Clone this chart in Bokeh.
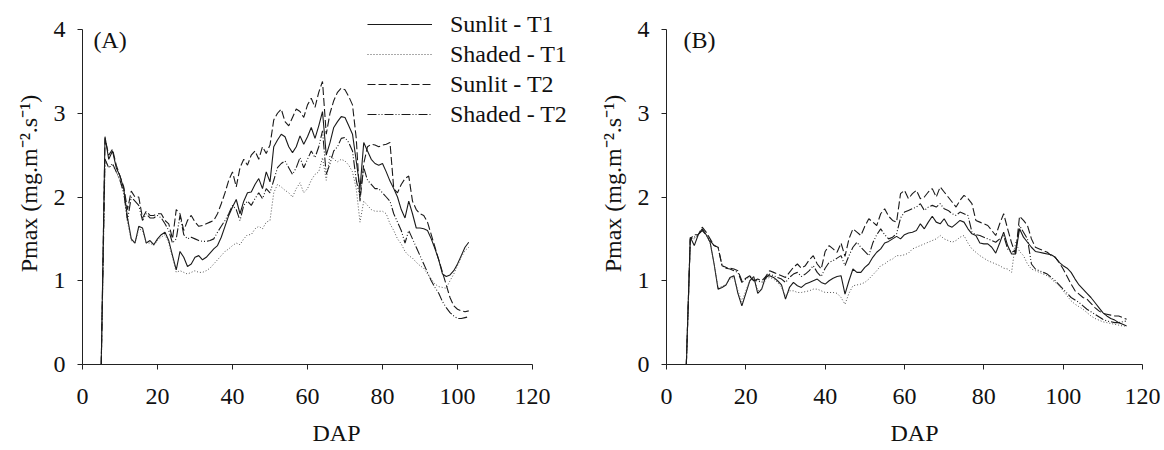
from bokeh.plotting import figure
from bokeh.layouts import row
from bokeh.models import Label, Legend, LegendItem, FixedTicker, Range1d
from bokeh.embed import file_html
from bokeh.resources import INLINE

# ---------------- data ----------------
x_ticks = [0, 20, 40, 60, 80, 100, 120]
y_ticks = [0, 1, 2, 3, 4]
series_names = ["Sunlit - T1", "Shaded - T1", "Sunlit - T2", "Shaded - T2"]

dap_a = list(range(5, 104))
sunlit_t1_a = [0, 2.72, 2.45, 2.55, 2.35, 2.25, 2.1, 1.75, 1.5, 1.45,
               1.65, 1.63, 1.45, 1.48, 1.43, 1.5, 1.55, 1.58, 1.48, 1.3,
               1.13, 1.35, 1.28, 1.17, 1.2, 1.28, 1.3, 1.25, 1.28, 1.33,
               1.38, 1.42, 1.52, 1.65, 1.78, 1.88, 1.97, 1.8, 1.95, 2.05,
               2.06, 2.15, 2.22, 2.1, 2.3, 2.18, 2.6, 2.68, 2.75, 2.72,
               2.6, 2.53, 2.6, 2.73, 2.63, 2.72, 2.83, 2.7, 2.85, 3.02,
               2.5, 2.65, 2.83, 2.9, 2.96, 2.95, 2.85, 2.75, 2.43, 2.1,
               2.65, 2.55, 2.45, 2.4, 2.38, 2.4, 2.3, 2.19, 2.1, 2.0,
               1.85, 1.75, 1.95, 1.8, 1.63, 1.63, 1.62, 1.6, 1.5, 1.38,
               1.25, 1.08, 1.05, 1.07, 1.12, 1.2, 1.3, 1.4, 1.46]
shaded_t1_a = [0, 2.45, 2.35, 2.38, 2.3, 2.2, 2.05, 1.7, 1.48, 1.45,
               1.62, 1.6, 1.45, 1.45, 1.42, 1.48, 1.52, 1.55, 1.45, 1.28,
               1.1, 1.12, 1.1, 1.08, 1.1, 1.12, 1.1, 1.1, 1.12, 1.15,
               1.2, 1.25, 1.3, 1.35, 1.38, 1.42, 1.45, 1.43, 1.5, 1.55,
               1.55, 1.62, 1.65, 1.62, 1.7, 1.72, 2.05, 2.15, 2.12, 2.08,
               2.05, 2.0, 2.1, 2.17, 2.05, 2.1, 2.2, 2.27, 2.3, 2.47,
               2.2, 2.5, 2.45, 2.42, 2.45, 2.43, 2.38, 2.3, 2.1, 1.7,
               1.95, 1.9, 1.85, 1.83, 1.83, 1.83, 1.8, 1.68, 1.6, 1.5,
               1.44, 1.35, 1.3, 1.27, 1.22, 1.18, 1.15, 1.08, 1.02, 0.96,
               0.93, 0.92, 0.91, 1.0, 1.08, 1.18, 1.28, 1.36, 1.4]
sunlit_t2_a = [0, 2.7, 2.5, 2.57, 2.38, 2.25, 2.12, 1.85, 2.07, 2.0,
               2.0, 1.75, 1.83, 1.78, 1.78, 1.8, 1.8, 1.72, 1.68, 1.5,
               1.85, 1.8, 1.6, 1.72, 1.78, 1.7, 1.65, 1.66, 1.68, 1.7,
               1.72, 1.8, 1.92, 2.05, 2.2, 2.3, 2.12, 2.35, 2.45, 2.38,
               2.5, 2.55, 2.45, 2.6, 2.52, 2.62, 2.92, 3.0, 3.05, 2.9,
               2.85, 2.95, 3.05, 3.02, 2.95, 3.1, 3.18, 3.07, 3.25, 3.38,
               2.75, 3.0, 3.15, 3.25, 3.3, 3.28, 3.2, 3.1, 2.7, 1.95,
               2.4, 2.6, 2.63, 2.62, 2.6, 2.62, 2.63, 2.65, 2.1, 2.05,
               2.15, 2.22, 2.25, 1.95, 1.85, 1.8, 1.78, 1.7, 1.55, 1.4,
               1.25, 1.1, 0.95, 0.8, 0.7, 0.66, 0.64, 0.63, 0.64]
shaded_t2_a = [0, 2.45, 2.35, 2.4, 2.3, 2.2, 2.05, 1.72, 2.0, 1.95,
               1.9, 1.72, 1.8, 1.75, 1.75, 1.78, 1.75, 1.68, 1.6, 1.45,
               1.5, 1.78, 1.55, 1.5, 1.52, 1.5, 1.48, 1.47, 1.47, 1.48,
               1.5, 1.58, 1.65, 1.72, 1.8, 1.9, 1.85, 1.72, 1.9, 1.95,
               1.9, 1.98, 2.05, 1.98, 2.1, 2.05, 2.2, 2.35, 2.4, 2.43,
               2.35, 2.27, 2.35, 2.47, 2.35, 2.45, 2.55, 2.47, 2.6, 2.79,
               2.27, 2.4, 2.55, 2.6, 2.7, 2.71, 2.65, 2.55, 2.2, 2.0,
               2.35, 2.2, 2.15, 2.1, 2.1, 2.05, 2.0, 1.95, 1.8, 1.7,
               1.6, 1.45, 1.6, 1.5, 1.4, 1.3, 1.2, 1.1, 1.0, 0.92,
               0.85, 0.75, 0.68, 0.62, 0.58, 0.55, 0.55, 0.56, 0.57]

dap_b = list(range(5, 117))
sunlit_t1_b = [0, 1.52, 1.42, 1.55, 1.62, 1.55, 1.46, 1.2, 0.9, 0.92,
               0.95, 1.04, 1.06, 0.85, 0.7, 0.85, 1.0, 1.05, 0.85, 0.9,
               1.05, 1.06, 1.04, 1.0, 0.95, 0.78, 0.92, 0.98, 0.94, 0.92,
               0.96, 0.98, 1.0, 1.02, 0.98, 0.96, 1.0, 1.03, 1.05, 1.06,
               0.84, 1.0, 1.14, 1.1, 1.1, 1.16, 1.2, 1.28, 1.34, 1.38,
               1.45, 1.47, 1.5, 1.53, 1.5, 1.55, 1.57, 1.58, 1.6, 1.68,
               1.62, 1.7, 1.77, 1.7, 1.68, 1.74, 1.66, 1.64, 1.68, 1.72,
               1.7, 1.62, 1.56, 1.54, 1.45, 1.44, 1.44, 1.4, 1.33, 1.45,
               1.58, 1.42, 1.32, 1.32, 1.62, 1.52, 1.46, 1.4, 1.35, 1.34,
               1.33, 1.32, 1.31, 1.28, 1.22, 1.18, 1.15, 1.1, 1.02, 0.95,
               0.9, 0.85, 0.8, 0.74, 0.68, 0.62, 0.58, 0.55, 0.53, 0.5,
               0.48, 0.46]
shaded_t1_b = [0, 1.5, 1.5, 1.55, 1.6, 1.55, 1.45, 1.2, 0.92, 0.93,
               0.96, 1.02, 1.04, 0.88, 0.75, 0.88, 1.0, 1.04, 0.88, 0.9,
               1.02, 1.04, 1.02, 0.98, 0.92, 0.82, 0.88, 0.88, 0.86, 0.86,
               0.87, 0.88, 0.9, 0.9, 0.88, 0.86, 0.86, 0.86, 0.85, 0.8,
               0.72, 0.85, 0.94, 0.95, 0.96, 0.98, 1.02, 1.07, 1.12, 1.18,
               1.2, 1.24, 1.26, 1.3, 1.3, 1.31, 1.33, 1.38, 1.4, 1.42,
               1.44, 1.46, 1.48, 1.5, 1.54, 1.5, 1.48, 1.46, 1.48, 1.52,
               1.54, 1.45, 1.38, 1.34, 1.3, 1.27, 1.24, 1.22, 1.2, 1.18,
               1.15, 1.14, 1.1, 1.46, 1.35, 1.3, 1.2, 1.14, 1.12, 1.1,
               1.08, 1.06, 1.02, 0.98, 0.94, 0.88, 0.82, 0.76, 0.72, 0.69,
               0.66, 0.62, 0.58, 0.55, 0.53, 0.51, 0.5, 0.49, 0.48, 0.47,
               0.46, 0.46]
sunlit_t2_b = [0, 1.5, 1.55, 1.55, 1.64, 1.58, 1.5, 1.42, 1.4, 1.18,
               1.16, 1.15, 1.14, 1.12, 1.0, 1.03, 1.06, 1.0, 1.02, 1.0,
               1.05, 1.12, 1.1, 1.08, 1.06, 1.04, 1.1, 1.16, 1.2, 1.15,
               1.18, 1.25, 1.3, 1.2, 1.14, 1.35, 1.42, 1.38, 1.34, 1.45,
               1.29, 1.5, 1.62, 1.58, 1.54, 1.65, 1.74, 1.7, 1.66, 1.8,
               1.86, 1.77, 1.72, 1.7, 2.04, 2.08, 1.98, 2.04, 2.08, 1.98,
               2.0, 2.06, 2.1, 2.0, 2.12, 2.06, 2.0, 1.94, 1.88, 1.96,
               2.02, 1.98, 1.92, 1.72, 1.7, 1.68, 1.66, 1.6, 1.54, 1.68,
               1.8, 1.62, 1.45, 1.32, 1.77, 1.72, 1.66, 1.5, 1.4, 1.38,
               1.36, 1.34, 1.3, 1.28, 1.22, 1.14, 1.05, 0.96, 0.88, 0.84,
               0.8, 0.78, 0.73, 0.68, 0.64, 0.61, 0.6, 0.59, 0.58, 0.58,
               0.56, 0.54]
shaded_t2_b = [0, 1.5, 1.52, 1.55, 1.6, 1.55, 1.48, 1.42, 1.4, 1.18,
               1.15, 1.14, 1.12, 1.1, 0.98, 1.02, 1.05, 1.0, 1.0, 0.98,
               1.03, 1.08, 1.06, 1.04, 1.02, 0.98, 1.04, 1.08, 1.1, 1.05,
               1.08, 1.12, 1.18, 1.1, 1.05, 1.15, 1.22, 1.24, 1.27, 1.3,
               1.18, 1.3, 1.4, 1.46, 1.4, 1.35, 1.3, 1.45, 1.55, 1.62,
               1.55, 1.5, 1.52, 1.56, 1.75, 1.82, 1.84, 1.86, 1.88, 1.92,
               1.84, 1.88, 1.9, 1.88, 1.92, 1.86, 1.84, 1.8, 1.78, 1.82,
               1.8, 1.78, 1.58, 1.55, 1.54, 1.52, 1.5, 1.48, 1.46, 1.5,
               1.54, 1.38, 1.34, 1.36, 1.66, 1.58, 1.5, 1.2, 1.14, 1.12,
               1.1, 1.08, 1.04, 1.0, 0.95, 0.9, 0.85, 0.8, 0.77, 0.74,
               0.7, 0.66, 0.63, 0.6, 0.57, 0.54, 0.52, 0.51, 0.5, 0.5,
               0.51, 0.52]

# ---------------- styling ----------------
FONT = "Liberation Serif"
STYLES = [
    dict(line_color="#1a1a1a", line_width=1.1, line_dash="solid"),
    dict(line_color="#555555", line_width=1.0, line_dash="1 2"),
    dict(line_color="#1a1a1a", line_width=1.1, line_dash="8 3"),
    dict(line_color="#1a1a1a", line_width=1.1, line_dash="9 2 1 2 1 2"),
]

HEIGHT = 450
TOP = 2          # frame extends above y=4 so the legend is not clipped
BOTTOM = 86
AXIS_PX = 335    # pixels from y=0 to y=4


def make_panel(width, border_left, border_right, axis_w_px, dap, series, tag, tag_x, tag_y):
    frame_w = width - border_left - border_right
    x_end = 120.0 * frame_w / axis_w_px
    frame_h = HEIGHT - TOP - BOTTOM
    y_end = 4.0 * frame_h / AXIS_PX
    p = figure(width=width, height=HEIGHT, x_range=Range1d(0, x_end), y_range=Range1d(0, y_end),
               output_backend="svg", toolbar_location=None,
               min_border_left=border_left, min_border_right=border_right,
               min_border_top=TOP, min_border_bottom=BOTTOM)
    p.outline_line_color = None
    p.xgrid.visible = False
    p.ygrid.visible = False
    p.background_fill_color = "white"
    p.border_fill_color = "white"
    p.xaxis.ticker = FixedTicker(ticks=x_ticks)
    p.yaxis.ticker = FixedTicker(ticks=y_ticks)
    p.xaxis.bounds = (0, 120)
    p.yaxis.bounds = (0, 4)
    for ax in (p.xaxis[0], p.yaxis[0]):
        ax.axis_line_color = "#222222"
        ax.axis_line_width = 1
        ax.major_tick_line_color = "#222222"
        ax.minor_tick_line_color = None
        ax.major_tick_out = 5
        ax.major_tick_in = 0
        ax.major_label_text_font = FONT
        ax.major_label_text_font_size = "24px"
        ax.major_label_text_color = "#111111"
        ax.axis_label_text_font = FONT
        ax.axis_label_text_font_size = "24px"
        ax.axis_label_text_font_style = "normal"
        ax.axis_label_text_color = "#111111"
    p.xaxis.axis_label = "DAP"
    p.yaxis.axis_label = "Pmax (mg.m\u207b\u00b2.s\u207b\u00b9)"
    p.xaxis.major_label_standoff = 19
    p.xaxis.axis_label_standoff = 13
    p.yaxis.major_label_standoff = 12
    p.yaxis.axis_label_standoff = 9

    renderers = []
    for vals, st in zip(series, STYLES):
        r = p.line(dap, vals, **st)
        renderers.append(r)

    p.add_layout(Label(x=tag_x, y=tag_y, text=tag, text_font=FONT, text_font_size="24px",
                       text_baseline="middle", text_align="left", text_color="#111111"))
    return p, renderers


# panel A: frame from x=82, 450 px for 0..120 ; panel B: frame from x=666, 476 px for 0..120
pA, rA = make_panel(592, 82, 2, 450, dap_a,
                    [sunlit_t1_a, shaded_t1_a, sunlit_t2_a, shaded_t2_a], "(A)", 2.9, 3.88)
pB, rB = make_panel(572, 74, 2, 476, dap_b,
                    [sunlit_t1_b, shaded_t1_b, sunlit_t2_b, shaded_t2_b], "(B)", 4.3, 3.88)

legend = Legend(items=[LegendItem(label=n, renderers=[r]) for n, r in zip(series_names, rA)],
                location=(285, 235), orientation="vertical",
                glyph_width=65, glyph_height=30, label_height=30, label_standoff=18,
                spacing=0, padding=0, margin=0,
                label_text_font=FONT, label_text_font_size="24px", label_text_color="#111111",
                border_line_color=None, background_fill_alpha=0)
pA.add_layout(legend)

layout = row(pA, pB)
open("out.html", "w").write(file_html(layout, INLINE))
